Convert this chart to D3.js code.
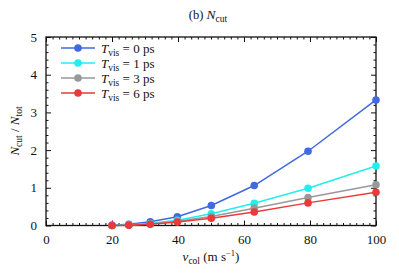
<!DOCTYPE html>
<html><head><meta charset="utf-8">
<script src="https://cdn.jsdelivr.net/npm/d3@7"></script>
<style>body{margin:0;background:#fff}svg{display:block}text{font-family:"Liberation Serif","Times New Roman",serif;fill:#111}</style>
</head><body>
<svg id="c" width="399" height="278"></svg>
<script>
const vcol = [20, 25.1, 31.6, 39.8, 50.1, 63.1, 79.4, 100];
const tvisLabels = ["0", "1", "3", "6"];
const seriesColors = ["#4169e1", "#22eeee", "#999999", "#e83a3a"];
const nT0 = [0.005, 0.03, 0.10, 0.23, 0.53, 1.06, 1.97, 3.33];
const nT1 = [0.002, 0.015, 0.05, 0.14, 0.31, 0.59, 0.99, 1.58];
const nT3 = [0.001, 0.01, 0.04, 0.11, 0.24, 0.46, 0.74, 1.08];
const nT6 = [0.001, 0.008, 0.035, 0.09, 0.19, 0.36, 0.60, 0.88];
const xTicks = [0, 20, 40, 60, 80, 100];
const yTicks = [0, 1, 2, 3, 4, 5];
const series = [nT0, nT1, nT3, nT6];

const svg = d3.select("#c");
const m = {l: 46, r: 23, t: 37, b: 52.5};
const W = 399, H = 278;
const x = d3.scaleLinear().domain([0, 100]).range([m.l, W - m.r]);
const y = d3.scaleLinear().domain([0, 5]).range([H - m.b, m.t]);

const g = svg.append("g");
function axisStyle(sel){ sel.select(".domain").remove(); sel.selectAll("line").attr("stroke","#111"); }
const xMinor = d3.range(0, 100.001, 2).filter(v => v % 20 !== 0);
const yMinor = d3.range(0, 5.001, 0.2).filter(v => Math.abs(v - Math.round(v)) > 1e-6);

// bottom
g.append("g").attr("transform",`translate(0,${y(0)})`).call(d3.axisBottom(x).tickValues(xTicks).tickSize(-5).tickPadding(9).tickFormat(d3.format("d"))).call(axisStyle)
 .selectAll("text").attr("font-size", 13).attr("fill","#111");
g.append("g").attr("transform",`translate(0,${y(0)})`).call(d3.axisBottom(x).tickValues(xMinor).tickSize(-2.5).tickFormat("")).call(axisStyle);
// top
g.append("g").attr("transform",`translate(0,${y(5)})`).call(d3.axisTop(x).tickValues(xTicks).tickSize(-5).tickFormat("")).call(axisStyle);
g.append("g").attr("transform",`translate(0,${y(5)})`).call(d3.axisTop(x).tickValues(xMinor).tickSize(-2.5).tickFormat("")).call(axisStyle);
// left
g.append("g").attr("transform",`translate(${x(0)},0)`).call(d3.axisLeft(y).tickValues(yTicks).tickSize(-5).tickPadding(9).tickFormat(d3.format("d"))).call(axisStyle)
 .selectAll("text").attr("font-size", 13).attr("fill","#111");
g.append("g").attr("transform",`translate(${x(0)},0)`).call(d3.axisLeft(y).tickValues(yMinor).tickSize(-2.5).tickFormat("")).call(axisStyle);
// right
g.append("g").attr("transform",`translate(${x(100)},0)`).call(d3.axisRight(y).tickValues(yTicks).tickSize(-5).tickFormat("")).call(axisStyle);
g.append("g").attr("transform",`translate(${x(100)},0)`).call(d3.axisRight(y).tickValues(yMinor).tickSize(-2.5).tickFormat("")).call(axisStyle);

// frame
g.append("rect").attr("x", x(0)).attr("y", y(5)).attr("width", x(100)-x(0)).attr("height", y(0)-y(5))
 .attr("fill","none").attr("stroke","#111").attr("stroke-width",1.3);

// series
const line = d3.line().x((d,i)=>x(vcol[i])).y(d=>y(d));
series.forEach((s, k) => {
  g.append("path").datum(s).attr("d", line).attr("fill","none").attr("stroke", seriesColors[k]).attr("stroke-width",1.5);
  g.selectAll(null).data(s).enter().append("circle")
   .attr("cx",(d,i)=>x(vcol[i])).attr("cy",d=>y(d)).attr("r",3.8).attr("fill",seriesColors[k]);
});

// legend
tvisLabels.forEach((t, k) => {
  const yy = 48 + k*15;
  g.append("line").attr("x1",61).attr("x2",95).attr("y1",yy).attr("y2",yy).attr("stroke",seriesColors[k]).attr("stroke-width",1.5);
  g.append("circle").attr("cx",78).attr("cy",yy).attr("r",3.8).attr("fill",seriesColors[k]);
  const tx = g.append("text").attr("x",101).attr("y",yy+4.5).attr("font-size",13);
  tx.append("tspan").attr("font-style","italic").text("T");
  tx.append("tspan").attr("font-size",9.5).attr("dy",3).text("vis");
  tx.append("tspan").attr("dy",-3).text(" = " + t + " ps");
});

// title
const tt = svg.append("text").attr("x", 208).attr("y", 19).attr("text-anchor","middle").attr("font-size",12.5);
tt.append("tspan").text("(b) ");
tt.append("tspan").attr("font-style","italic").attr("font-size",13.5).text("N");
tt.append("tspan").attr("font-size",9.5).attr("dy",3).text("cut");

// x label
const xl = svg.append("text").attr("x", 211).attr("y", 261).attr("text-anchor","middle").attr("font-size",13);
xl.append("tspan").attr("font-style","italic").text("v");
xl.append("tspan").attr("font-size",9.5).attr("dy",3).text("col");
xl.append("tspan").attr("dy",-3).text(" (m s");
xl.append("tspan").attr("font-size",8.5).attr("dy",-5).text("\u22121");
xl.append("tspan").attr("dy",5).text(")");

// y label
const yl = svg.append("text").attr("transform","translate(19,131) rotate(-90)").attr("text-anchor","middle").attr("font-size",13);
yl.append("tspan").attr("font-style","italic").text("N");
yl.append("tspan").attr("font-size",9.5).attr("dy",3).text("cut");
yl.append("tspan").attr("dy",-3).text(" / ");
yl.append("tspan").attr("font-style","italic").text("N");
yl.append("tspan").attr("font-size",9.5).attr("dy",3).text("tot");
</script>
</body></html>
